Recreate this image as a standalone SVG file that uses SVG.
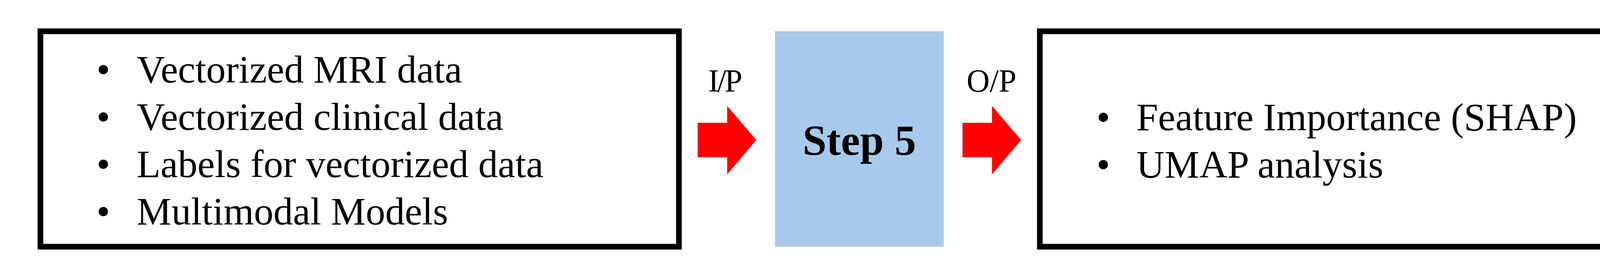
<svg xmlns="http://www.w3.org/2000/svg" width="4400" height="711" viewBox="0 0 4400 711">
<style>
.box{fill:#FFFFFF;stroke:#000000;stroke-width:14.5}
.txt{font-family:"Liberation Serif","Times New Roman",serif;font-size:100px;fill:#000000}
.lbl{font-family:"Liberation Serif","Times New Roman",serif;font-size:82px;fill:#000000}
.step{font-family:"Liberation Serif","Times New Roman",serif;font-size:110px;font-weight:bold;fill:#000000;text-anchor:middle}
.arrow{fill:#FF0000}
</style>
<rect x="0" y="0" width="4400" height="711" fill="#FFFFFF"/>
<g id="inputs">
<rect class="box" x="103.5" y="80" width="1634.5" height="551"/>
<text class="txt" x="247" y="211">•</text>
<text class="txt" x="350" y="211">Vectorized MRI data</text>
<text class="txt" x="247" y="332">•</text>
<text class="txt" x="350" y="332">Vectorized clinical data</text>
<text class="txt" x="247" y="453">•</text>
<text class="txt" x="350" y="453">Labels for vectorized data</text>
<text class="txt" x="247" y="574">•</text>
<text class="txt" x="350" y="574">Multimodal Models</text>
</g>
<g id="step5">
<rect x="1984" y="80" width="432" height="551" fill="#A7CAEC"/>
<text class="step" x="2200" y="395.5">Step 5</text>
</g>
<g id="outputs">
<rect class="box" x="2662" y="80" width="1635" height="551"/>
<text class="txt" x="2807" y="333">•</text>
<text class="txt" x="2909" y="333">Feature Importance (SHAP)</text>
<text class="txt" x="2807" y="454">•</text>
<text class="txt" x="2909" y="454">UMAP analysis</text>
</g>
<g id="connectors">
<g id="arrow-in">
<polygon class="arrow" points="1786,314 1861.5,314 1861.5,271 1936,358 1861.5,446 1861.5,402 1786,402"/>
<text class="lbl" x="1813" y="234" letter-spacing="-4">I/P</text>
</g>
<g id="arrow-out">
<polygon class="arrow" points="2464,314 2539.5,314 2539.5,271 2614,358 2539.5,446 2539.5,402 2464,402"/>
<text class="lbl" x="2474.5" y="234">O/P</text>
</g>
</g>
</svg>
